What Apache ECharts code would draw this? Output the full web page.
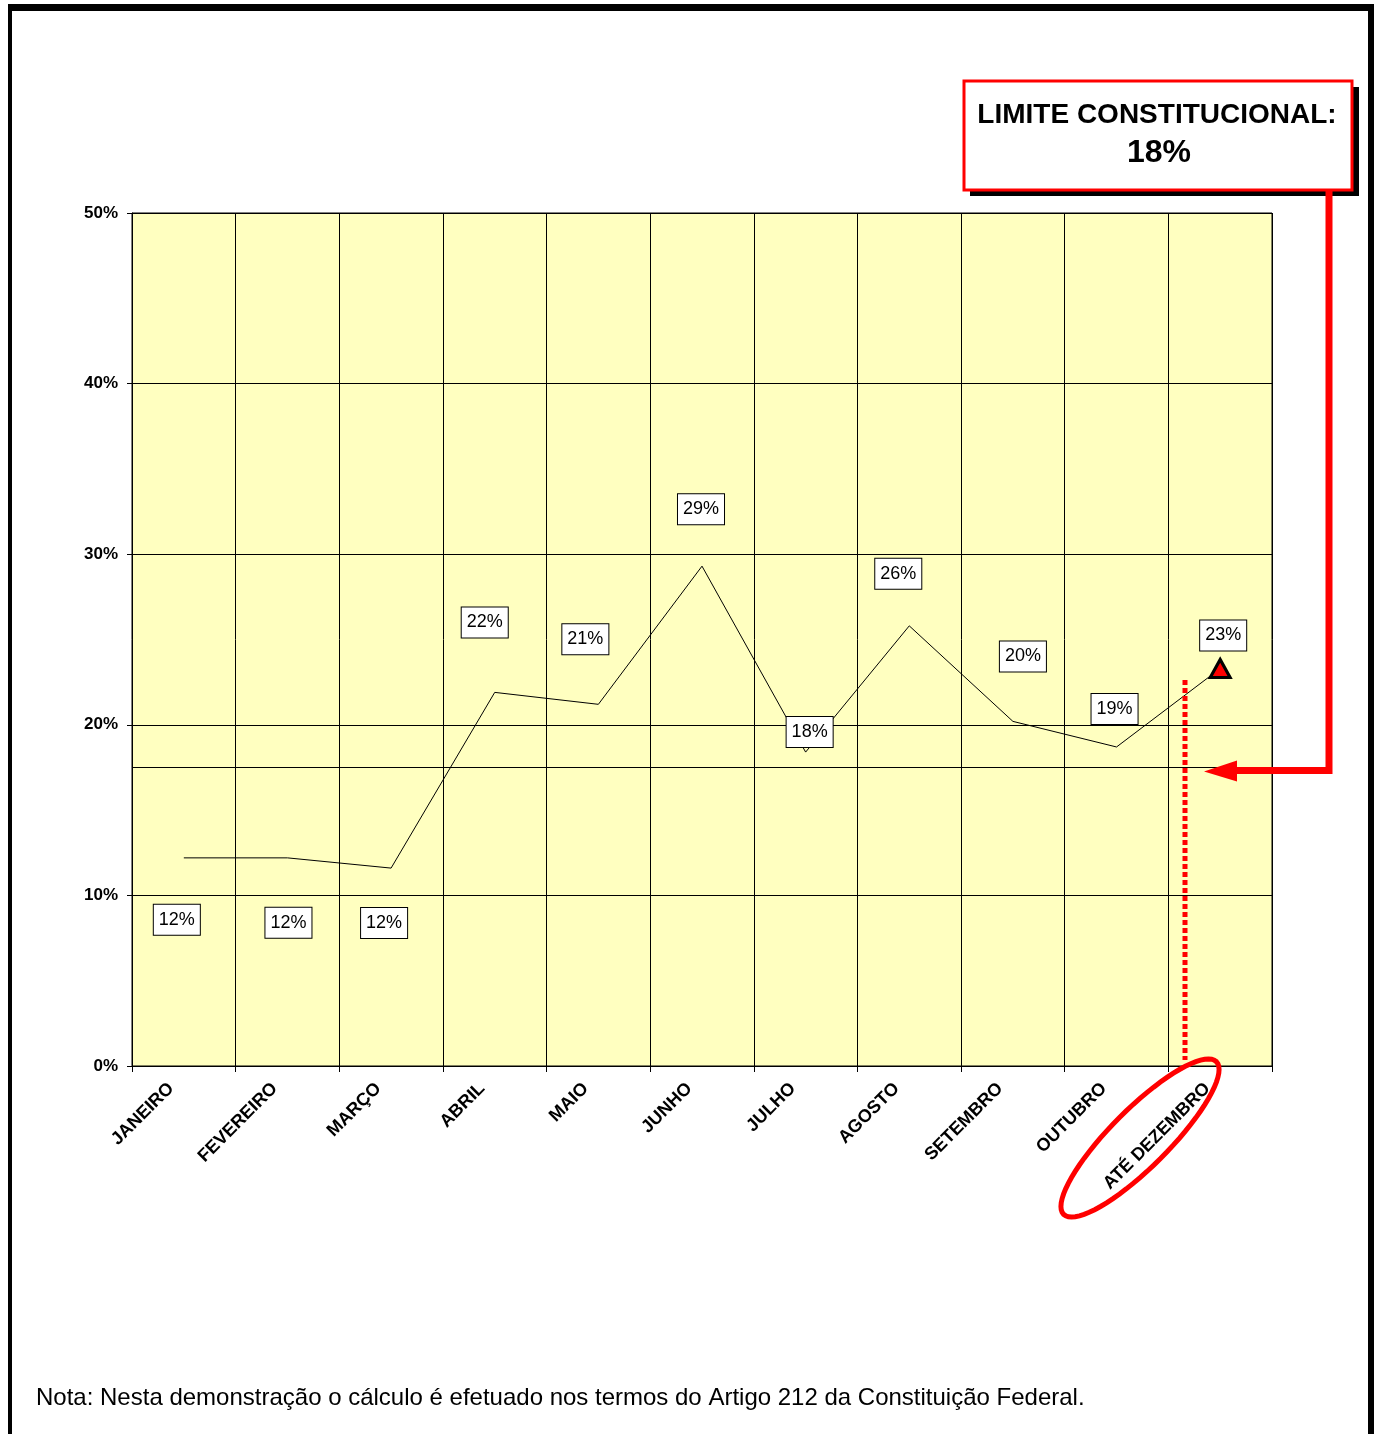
<!DOCTYPE html>
<html lang="pt-BR">
<head>
<meta charset="UTF-8">
<title>Limite constitucional</title>
<script src="https://cdn.jsdelivr.net/npm/echarts@6/dist/echarts.min.js"></script>
<style>
  html, body { margin: 0; padding: 0; background: #fff; }
  #main { width: 1380px; height: 1434px; }
</style>
</head>
<body>
<div id="main"></div>
<script>
// dados
var meses = ['JANEIRO', 'FEVEREIRO', 'MARÇO', 'ABRIL', 'MAIO', 'JUNHO', 'JULHO', 'AGOSTO', 'SETEMBRO', 'OUTUBRO', 'ATÉ DEZEMBRO'];
var percentuais = [12.2, 12.2, 11.6, 21.9, 21.2, 29.3, 18.4, 25.8, 20.2, 18.7, 23.3];
var limite = [17.5];
var yTicks = [0, 10, 20, 30, 40, 50];

// deslocamento das caixas de rótulo (layout, em px)
var rotulosOffset = [[-7, 62], [1, 65], [-7, 55], [-10, -70], [-13, -65], [-1, -57], [4, -20], [-11, -52], [10, -65], [-2, -38], [3, -33]];

var FONTE = '"Liberation Sans", Arial, sans-serif';
var myChart = echarts.init(document.getElementById('main'));

var serieData = percentuais.map(function (v, i) {
    var item = { value: v, label: { offset: rotulosOffset[i] } };
    if (i === percentuais.length - 1) {
        item.symbol = 'triangle';
        item.symbolSize = [20, 18];
        item.itemStyle = { color: '#ff0000', borderColor: '#000', borderWidth: 3 };
    }
    return item;
});

var option = {
    animation: false,
    backgroundColor: '#fff',
    grid: {
        left: 132, top: 213, width: 1140, height: 853,
        show: true,
        backgroundColor: '#ffffc0',
        borderColor: '#000',
        borderWidth: 1
    },
    xAxis: {
        type: 'category',
        data: meses,
        boundaryGap: true,
        axisLine: { lineStyle: { color: '#000', width: 1 } },
        axisTick: { show: true, length: 6, lineStyle: { color: '#000' } },
        splitLine: { show: true, lineStyle: { color: '#000', width: 1 } },
        axisLabel: {
            interval: 0,
            rotate: 45,
            margin: 7,
            padding: [0, 18, 0, 0],
            color: '#000',
            fontWeight: 'bold',
            fontSize: 18,
            fontFamily: FONTE
        }
    },
    yAxis: {
        type: 'value',
        min: yTicks[0],
        max: yTicks[yTicks.length - 1],
        interval: yTicks[1] - yTicks[0],
        axisLine: { show: true, lineStyle: { color: '#000', width: 1 } },
        axisTick: { show: true, length: 5, lineStyle: { color: '#000' } },
        splitLine: { show: true, lineStyle: { color: '#000', width: 1 } },
        axisLabel: {
            formatter: '{value}%',
            margin: 14,
            color: '#000',
            fontWeight: 'bold',
            fontSize: 17,
            fontFamily: FONTE
        }
    },
    series: [
        {
            type: 'line',
            data: serieData,
            symbol: 'circle',
            symbolSize: 1,
            itemStyle: { color: 'rgba(0,0,0,0)', borderWidth: 0 },
            lineStyle: { color: '#000', width: 1 },
            emphasis: { disabled: true },
            label: {
                show: true,
                position: 'inside',
                formatter: function (p) { return Math.round(p.value) + '%'; },
                color: '#000',
                fontSize: 18,
                fontFamily: FONTE,
                backgroundColor: '#fff',
                borderColor: '#000',
                borderWidth: 1,
                padding: [7, 5, 5, 5]
            },
            markLine: {
                silent: true,
                symbol: ['none', 'none'],
                label: { show: false },
                lineStyle: { color: '#000', width: 1, type: 'solid' },
                data: [{ yAxis: limite[0] }]
            },
            z: 3
        }
    ]
};

myChart.setOption(option);

// anotações desenhadas por cima (moldura, caixa, seta, elipse, nota)
var yLimite = myChart.convertToPixel({ gridIndex: 0 }, [0, limite[0]])[1];

// elipse em volta de "ATÉ DEZEMBRO"
var elipse = [];
for (var k = 0; k < 72; k++) {
    var t = k / 72 * Math.PI * 2;
    var a = 108, b = 29, c = Math.SQRT1_2;
    elipse.push([1140 + a * Math.cos(t) * c + b * Math.sin(t) * c,
                 1138 - a * Math.cos(t) * c + b * Math.sin(t) * c]);
}

myChart.setOption({
    graphic: [
        // moldura
        { type: 'rect', shape: { x: 8, y: 4, width: 1366, height: 7 }, style: { fill: '#000' }, z: 100 },
        { type: 'rect', shape: { x: 8, y: 4, width: 4, height: 1430 }, style: { fill: '#000' }, z: 100 },
        { type: 'rect', shape: { x: 1368, y: 4, width: 6, height: 1430 }, style: { fill: '#000' }, z: 100 },
        // caixa do limite
        { type: 'rect', shape: { x: 970, y: 87, width: 389, height: 109 }, style: { fill: '#000' }, z: 100 },
        { type: 'rect', shape: { x: 964, y: 81, width: 388, height: 109 }, style: { fill: '#fff', stroke: '#ff0000', lineWidth: 3 }, z: 101 },
        { type: 'text', z: 102, style: { text: 'LIMITE CONSTITUCIONAL:', x: 1157, y: 115, textAlign: 'center', textVerticalAlign: 'middle', font: 'bold 28px ' + FONTE, fill: '#000' } },
        { type: 'text', z: 102, style: { text: '18%', x: 1159, y: 153, textAlign: 'center', textVerticalAlign: 'middle', font: 'bold 32px ' + FONTE, fill: '#000' } },
        // seta
        { type: 'polyline', z: 100, shape: { points: [[1329, 190], [1329, yLimite + 3], [1232, yLimite + 3]] }, style: { stroke: '#ff0000', lineWidth: 7, fill: null } },
        { type: 'polygon', z: 100, shape: { points: [[1204, yLimite + 4], [1237, yLimite - 7], [1237, yLimite + 14]] }, style: { fill: '#ff0000' } },
        // linha pontilhada
        { type: 'line', z: 100, shape: { x1: 1185, y1: 680, x2: 1185, y2: 1060 }, style: { stroke: '#ff0000', lineWidth: 5, lineDash: [5, 3] } },
        // elipse
        { type: 'polygon', z: 100, shape: { points: elipse }, style: { fill: null, stroke: '#ff0000', lineWidth: 5 } },
        // nota
        { type: 'text', z: 100, style: { text: 'Nota: Nesta demonstração o cálculo é efetuado nos termos do Artigo 212 da Constituição Federal.', x: 36, y: 1398, textVerticalAlign: 'middle', font: '24px ' + FONTE, fill: '#000' } }
    ]
});
</script>
</body>
</html>
